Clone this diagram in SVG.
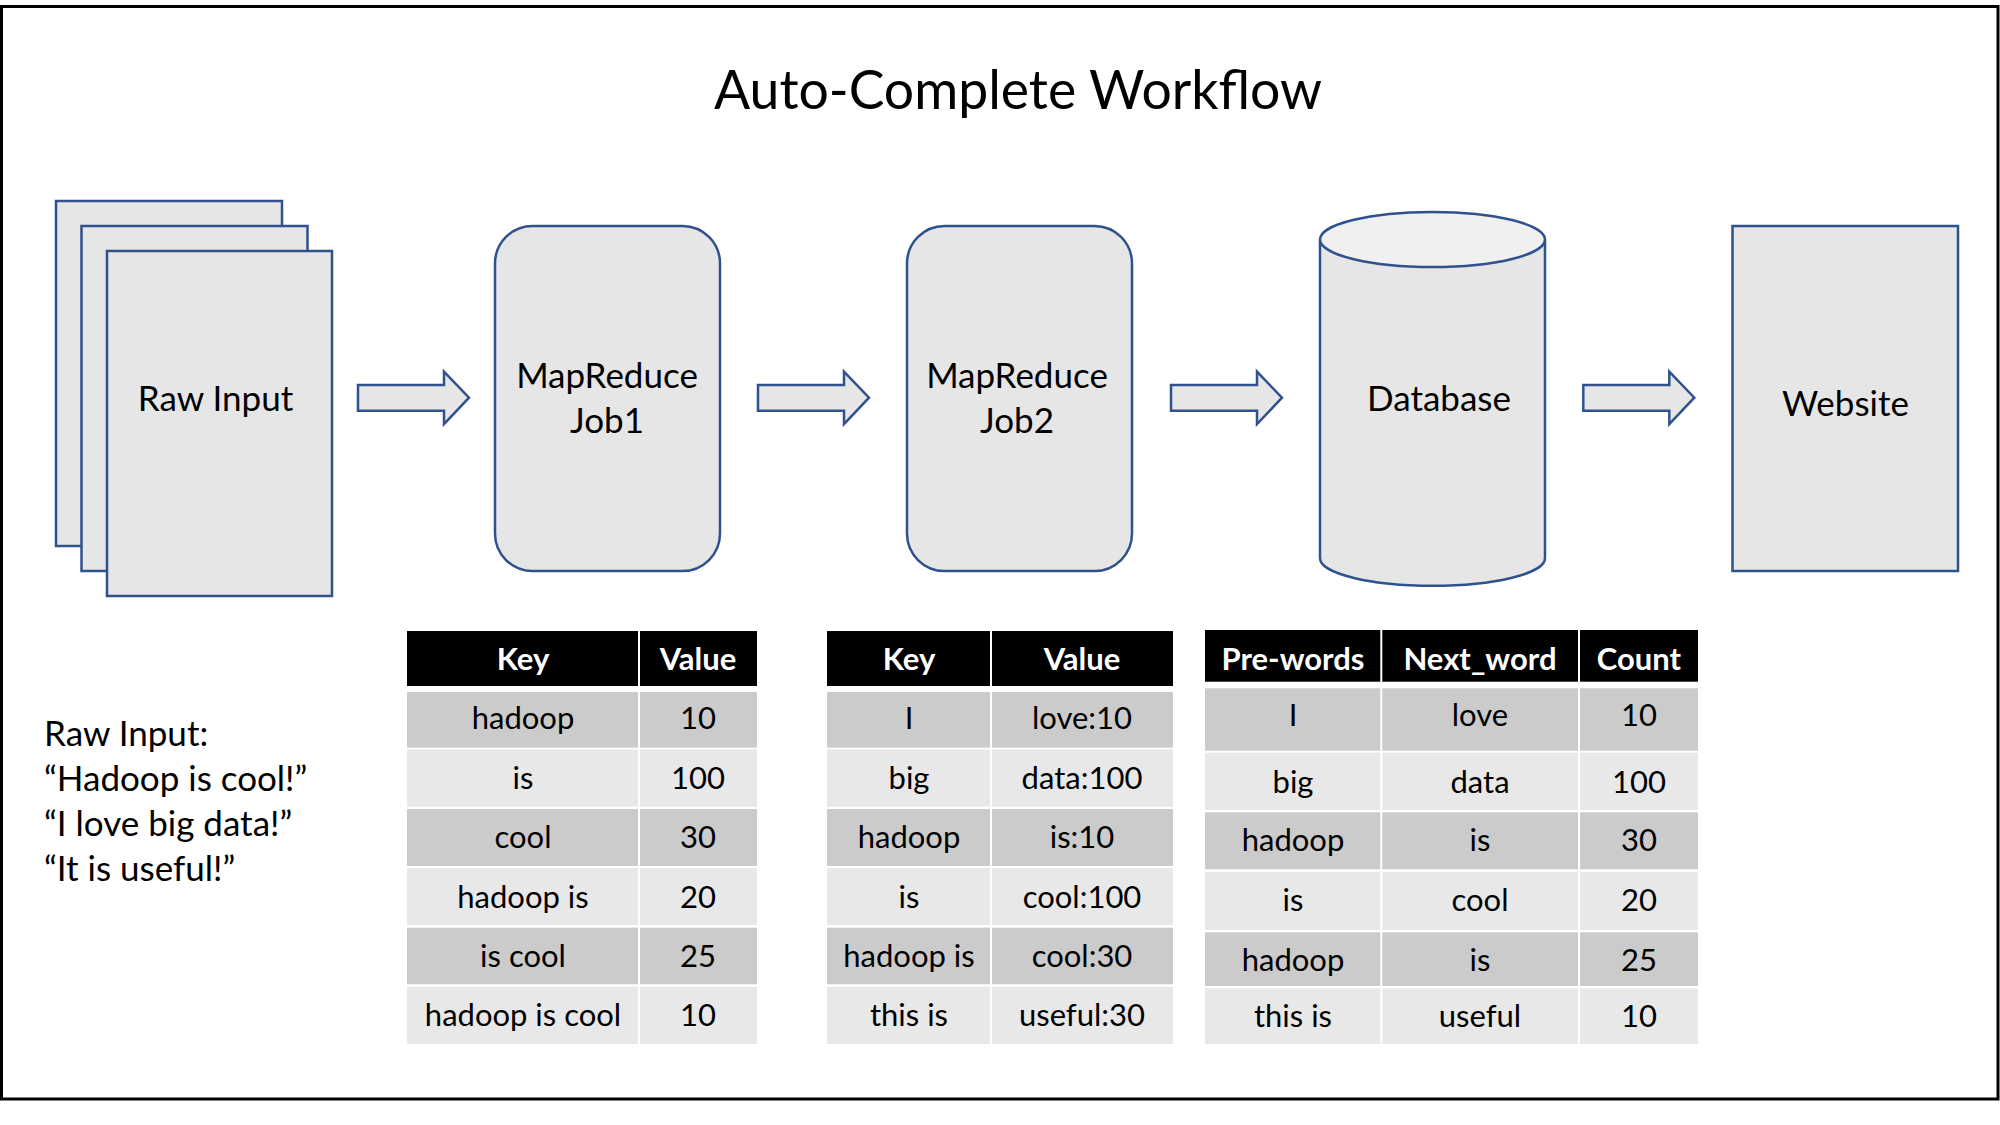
<svg xmlns="http://www.w3.org/2000/svg" width="2000" height="1125" viewBox="0 0 2000 1125">
<style>
  .shape { fill: #E6E6E6; stroke: #2F528F; stroke-width: 2.5; }
  .lbl { font-family: Lato, "Open Sans", "Liberation Sans", sans-serif; font-size: 35px; fill: #000; text-anchor: middle; }
  .title { font-family: Lato, "Open Sans", "Liberation Sans", sans-serif; font-size: 53.5px; fill: #000; text-anchor: middle; }
  .side { font-family: Lato, "Open Sans", "Liberation Sans", sans-serif; font-size: 35px; fill: #000; }
  .th { font-family: Lato, "Open Sans", "Liberation Sans", sans-serif; font-size: 31px; font-weight: bold; fill: #FFF; text-anchor: middle; }
  .td { font-family: Lato, "Open Sans", "Liberation Sans", sans-serif; font-size: 31px; fill: #000; text-anchor: middle; }
  .hdr { fill: #000; }
  .dk { fill: #CBCBCB; }
  .lt { fill: #E8E8E8; }
  .sep { stroke: #FFF; stroke-width: 2; }
  .arrow { fill: #E6E6E6; stroke: #2F528F; stroke-width: 2.5; stroke-linejoin: miter; }
</style>
<defs>
  <polygon id="arr" points="0,0 86,0 86,-13.3 111,12.7 86,39 86,25.7 0,25.7"/>
</defs>
<rect x="1.5" y="6.5" width="1996.5" height="1092.5" fill="#FFF" stroke="#000" stroke-width="3"/>
<text class="title" x="1018" y="109">Auto-Complete Workflow</text>

<g id="raw-input">
  <rect class="shape" x="56" y="201" width="226" height="345"/>
  <rect class="shape" x="81.5" y="226" width="226" height="345"/>
  <rect class="shape" x="107" y="251" width="225" height="345"/>
  <text class="lbl" x="215.5" y="411">Raw Input</text>
</g>

<g id="job1">
  <rect class="shape" x="495" y="226" width="225" height="345" rx="37.5" ry="37.5"/>
  <text class="lbl" x="607" y="388">MapReduce</text>
  <text class="lbl" x="607" y="433">Job1</text>
</g>

<g id="job2">
  <rect class="shape" x="907" y="226" width="225" height="345" rx="37.5" ry="37.5"/>
  <text class="lbl" x="1017" y="388">MapReduce</text>
  <text class="lbl" x="1017" y="433">Job2</text>
</g>

<g id="database">
  <path class="shape" d="M1320,239.5 L1320,558.3 A112.5,27.5 0 0 0 1545,558.3 L1545,239.5"/>
  <ellipse cx="1432.5" cy="239.5" rx="112.5" ry="27.5" fill="#F0F0F0" stroke="#2F528F" stroke-width="2.5"/>
  <text class="lbl" x="1439" y="411">Database</text>
</g>

<g id="website">
  <rect class="shape" x="1732.5" y="226" width="225.5" height="345"/>
  <text class="lbl" x="1845.5" y="416">Website</text>
</g>

<g id="connectors">
  <use href="#arr" class="arrow" x="358" y="385"/>
  <use href="#arr" class="arrow" x="758" y="385"/>
  <use href="#arr" class="arrow" x="1171" y="385"/>
  <use href="#arr" class="arrow" x="1583.3" y="385"/>
</g>

<g id="raw-input-text">
  <text class="side" x="44" y="746">Raw Input:</text>
  <text class="side" x="44" y="791">“Hadoop is cool!”</text>
  <text class="side" x="44" y="836">“I love big data!”</text>
  <text class="side" x="44" y="881">“It is useful!”</text>
</g>

<g id="table1">
  <rect class="hdr" x="407" y="631" width="350" height="55"/>
  <rect class="dk" x="407" y="692" width="350" height="55.7"/>
  <rect class="lt" x="407" y="749.3" width="350" height="57.4"/>
  <rect class="dk" x="407" y="809" width="350" height="57"/>
  <rect class="lt" x="407" y="868" width="350" height="57"/>
  <rect class="dk" x="407" y="927.7" width="350" height="56.6"/>
  <rect class="lt" x="407" y="986.7" width="350" height="57.3"/>
  <line class="sep" x1="639" y1="631" x2="639" y2="1044"/>
  <text class="th" x="523" y="670">Key</text>
  <text class="th" x="698" y="670">Value</text>
  <text class="td" x="523" y="729">hadoop</text><text class="td" x="698" y="729">10</text>
  <text class="td" x="523" y="789">is</text><text class="td" x="698" y="789">100</text>
  <text class="td" x="523" y="848">cool</text><text class="td" x="698" y="848">30</text>
  <text class="td" x="523" y="908">hadoop is</text><text class="td" x="698" y="908">20</text>
  <text class="td" x="523" y="967">is cool</text><text class="td" x="698" y="967">25</text>
  <text class="td" x="523" y="1026">hadoop is cool</text><text class="td" x="698" y="1026">10</text>
</g>

<g id="table2">
  <rect class="hdr" x="827" y="631" width="346" height="55"/>
  <rect class="dk" x="827" y="692" width="346" height="55.7"/>
  <rect class="lt" x="827" y="749.3" width="346" height="57.4"/>
  <rect class="dk" x="827" y="809" width="346" height="57"/>
  <rect class="lt" x="827" y="868" width="346" height="57"/>
  <rect class="dk" x="827" y="927.7" width="346" height="56.6"/>
  <rect class="lt" x="827" y="986.7" width="346" height="57.3"/>
  <line class="sep" x1="991" y1="631" x2="991" y2="1044"/>
  <text class="th" x="909" y="670">Key</text>
  <text class="th" x="1082" y="670">Value</text>
  <text class="td" x="909" y="729">I</text><text class="td" x="1082" y="729">love:10</text>
  <text class="td" x="909" y="789">big</text><text class="td" x="1082" y="789">data:100</text>
  <text class="td" x="909" y="848">hadoop</text><text class="td" x="1082" y="848">is:10</text>
  <text class="td" x="909" y="908">is</text><text class="td" x="1082" y="908">cool:100</text>
  <text class="td" x="909" y="967">hadoop is</text><text class="td" x="1082" y="967">cool:30</text>
  <text class="td" x="909" y="1026">this is</text><text class="td" x="1082" y="1026">useful:30</text>
</g>

<g id="table3">
  <rect class="hdr" x="1205" y="630" width="493" height="51.7"/>
  <rect class="dk" x="1205" y="688.3" width="493" height="62.4"/>
  <rect class="lt" x="1205" y="752.7" width="493" height="57.3"/>
  <rect class="dk" x="1205" y="812.3" width="493" height="57"/>
  <rect class="lt" x="1205" y="871.7" width="493" height="58.3"/>
  <rect class="dk" x="1205" y="932.3" width="493" height="53.7"/>
  <rect class="lt" x="1205" y="988.3" width="493" height="55.7"/>
  <line class="sep" x1="1381.3" y1="630" x2="1381.3" y2="1044"/>
  <line class="sep" x1="1579" y1="630" x2="1579" y2="1044"/>
  <text class="th" x="1293" y="670">Pre-words</text>
  <text class="th" x="1480" y="670">Next_word</text>
  <text class="th" x="1639" y="670">Count</text>
  <text class="td" x="1293" y="725.5">I</text><text class="td" x="1480" y="725.5">love</text><text class="td" x="1639" y="725.5">10</text>
  <text class="td" x="1293" y="792.5">big</text><text class="td" x="1480" y="792.5">data</text><text class="td" x="1639" y="792.5">100</text>
  <text class="td" x="1293" y="851.3">hadoop</text><text class="td" x="1480" y="851.3">is</text><text class="td" x="1639" y="851.3">30</text>
  <text class="td" x="1293" y="910.7">is</text><text class="td" x="1480" y="910.7">cool</text><text class="td" x="1639" y="910.7">20</text>
  <text class="td" x="1293" y="971.3">hadoop</text><text class="td" x="1480" y="971.3">is</text><text class="td" x="1639" y="971.3">25</text>
  <text class="td" x="1293" y="1027">this is</text><text class="td" x="1480" y="1027">useful</text><text class="td" x="1639" y="1027">10</text>
</g>
</svg>
